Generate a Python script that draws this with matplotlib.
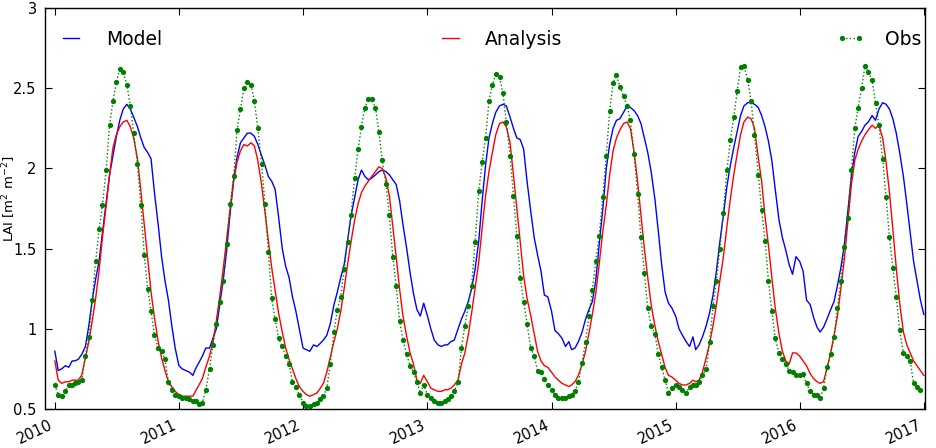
import matplotlib
matplotlib.use("Agg")
import matplotlib.pyplot as plt
import matplotlib.dates as mdates
import numpy as np

years = [2010, 2011, 2012, 2013, 2014, 2015, 2016]

# 10-day (dekad) series, one row per year
obs = [
    0.65, 0.59, 0.58, 0.61, 0.65, 0.65, 0.66, 0.67, 0.68, 0.83, 0.95, 1.18, 1.42, 1.62, 1.77, 1.99, 2.27, 2.42,
    2.54, 2.62, 2.60, 2.52, 2.39, 2.22, 2.03, 1.77, 1.46, 1.25, 1.11, 0.96, 0.88, 0.86, 0.81, 0.67, 0.62, 0.59,
    0.58, 0.57, 0.57, 0.56, 0.55, 0.55, 0.53, 0.54, 0.62, 0.75, 0.90, 1.03, 1.17, 1.30, 1.53, 1.78, 1.95, 2.24,
    2.37, 2.50, 2.54, 2.52, 2.42, 2.25, 2.03, 1.78, 1.48, 1.19, 1.06, 0.94, 0.89, 0.83, 0.78, 0.67, 0.64, 0.59,
    0.54, 0.52, 0.52, 0.53, 0.54, 0.56, 0.58, 0.63, 0.78, 0.98, 1.12, 1.20, 1.37, 1.54, 1.71, 1.94, 2.12, 2.26,
    2.38, 2.43, 2.43, 2.38, 2.23, 2.05, 1.90, 1.71, 1.45, 1.27, 1.05, 0.93, 0.84, 0.77, 0.73, 0.67, 0.60, 0.65,
    0.59, 0.57, 0.55, 0.54, 0.54, 0.55, 0.56, 0.58, 0.61, 0.67, 0.88, 1.02, 1.14, 1.27, 1.54, 1.86, 2.04, 2.19,
    2.42, 2.52, 2.59, 2.57, 2.47, 2.29, 2.08, 1.83, 1.58, 1.32, 1.17, 1.03, 0.88, 0.83, 0.74, 0.73, 0.69, 0.65,
    0.62, 0.59, 0.57, 0.57, 0.57, 0.58, 0.59, 0.61, 0.67, 0.79, 0.92, 1.08, 1.24, 1.42, 1.58, 1.82, 2.08, 2.36,
    2.53, 2.58, 2.51, 2.45, 2.39, 2.30, 2.09, 1.84, 1.57, 1.35, 1.13, 1.02, 0.97, 0.84, 0.76, 0.68, 0.60, 0.63,
    0.65, 0.64, 0.62, 0.60, 0.64, 0.65, 0.65, 0.67, 0.71, 0.75, 0.92, 1.14, 1.30, 1.50, 1.72, 1.99, 2.18, 2.32,
    2.48, 2.63, 2.64, 2.55, 2.42, 2.21, 1.96, 1.74, 1.55, 1.30, 1.11, 0.94, 0.85, 0.81, 0.78, 0.74, 0.73, 0.71,
    0.71, 0.72, 0.66, 0.61, 0.59, 0.59, 0.57, 0.63, 0.76, 0.84, 0.95, 1.13, 1.30, 1.51, 1.69, 1.99, 2.25, 2.38,
    2.50, 2.64, 2.60, 2.55, 2.41, 2.27, 2.06, 1.82, 1.57, 1.38, 1.20, 0.99, 0.85, 0.83, 0.80, 0.66, 0.64, 0.62,
]

model = [
    0.86, 0.74, 0.75, 0.77, 0.76, 0.80, 0.80, 0.81, 0.84, 0.89, 1.02, 1.18, 1.31, 1.42, 1.60, 1.79, 1.96, 2.08,
    2.20, 2.30, 2.37, 2.40, 2.37, 2.32, 2.26, 2.19, 2.13, 2.10, 2.06, 1.85, 1.65, 1.45, 1.30, 1.18, 1.02, 0.88,
    0.77, 0.75, 0.74, 0.73, 0.71, 0.76, 0.79, 0.83, 0.88, 0.88, 0.94, 1.00, 1.15, 1.30, 1.48, 1.73, 1.93, 2.07,
    2.16, 2.19, 2.22, 2.22, 2.20, 2.15, 2.08, 2.02, 1.95, 1.92, 1.87, 1.70, 1.50, 1.39, 1.32, 1.20, 1.11, 1.00,
    0.88, 0.87, 0.86, 0.90, 0.89, 0.91, 0.93, 0.96, 1.03, 1.15, 1.23, 1.32, 1.40, 1.55, 1.70, 1.82, 1.93, 1.99,
    1.95, 1.93, 1.94, 1.96, 1.98, 1.99, 1.98, 1.96, 1.93, 1.90, 1.80, 1.65, 1.50, 1.35, 1.22, 1.12, 1.08, 1.16,
    1.08, 1.00, 0.93, 0.90, 0.89, 0.90, 0.90, 0.92, 0.93, 1.00, 1.06, 1.11, 1.17, 1.25, 1.37, 1.55, 1.80, 2.02,
    2.19, 2.28, 2.35, 2.39, 2.40, 2.39, 2.32, 2.25, 2.19, 2.18, 2.12, 1.92, 1.73, 1.57, 1.46, 1.36, 1.21, 1.20,
    1.11, 0.99, 0.97, 0.94, 0.89, 0.92, 0.87, 0.88, 0.92, 0.98, 1.06, 1.12, 1.17, 1.30, 1.52, 1.75, 2.00, 2.15,
    2.25, 2.30, 2.31, 2.35, 2.39, 2.38, 2.36, 2.33, 2.28, 2.19, 2.10, 1.98, 1.81, 1.61, 1.40, 1.23, 1.16, 1.13,
    1.08, 1.00, 0.96, 0.92, 0.89, 0.95, 0.87, 0.90, 0.95, 1.02, 1.10, 1.21, 1.36, 1.54, 1.70, 1.89, 2.02, 2.13,
    2.23, 2.33, 2.39, 2.41, 2.41, 2.40, 2.38, 2.33, 2.26, 2.17, 2.05, 1.87, 1.68, 1.57, 1.49, 1.40, 1.34, 1.45,
    1.42, 1.36, 1.18, 1.15, 1.07, 1.01, 0.98, 1.01, 1.06, 1.12, 1.17, 1.27, 1.38, 1.52, 1.72, 1.95, 2.10, 2.20,
    2.23, 2.27, 2.29, 2.33, 2.30, 2.37, 2.41, 2.40, 2.37, 2.31, 2.22, 2.10, 1.95, 1.78, 1.60, 1.42, 1.30, 1.18,
    1.09,
]

analysis = [
    0.80, 0.68, 0.66, 0.67, 0.67, 0.68, 0.68, 0.68, 0.71, 0.82, 0.92, 1.05, 1.19, 1.36, 1.57, 1.77, 1.96, 2.13,
    2.21, 2.26, 2.29, 2.30, 2.26, 2.19, 2.06, 1.86, 1.65, 1.44, 1.23, 1.07, 0.92, 0.82, 0.74, 0.67, 0.64, 0.61,
    0.59, 0.58, 0.58, 0.58, 0.58, 0.62, 0.65, 0.69, 0.76, 0.83, 0.92, 1.05, 1.20, 1.37, 1.55, 1.75, 1.92, 2.04,
    2.11, 2.15, 2.14, 2.16, 2.14, 2.05, 1.90, 1.73, 1.55, 1.38, 1.24, 1.10, 0.98, 0.88, 0.81, 0.75, 0.69, 0.64,
    0.61, 0.59, 0.58, 0.59, 0.60, 0.63, 0.66, 0.73, 0.82, 0.92, 1.00, 1.11, 1.25, 1.40, 1.54, 1.68, 1.78, 1.85,
    1.89, 1.92, 1.95, 1.98, 2.01, 2.00, 1.94, 1.83, 1.64, 1.45, 1.25, 1.08, 0.95, 0.85, 0.78, 0.68, 0.66, 0.71,
    0.67, 0.63, 0.62, 0.61, 0.61, 0.62, 0.62, 0.63, 0.65, 0.68, 0.78, 0.85, 0.96, 1.10, 1.25, 1.42, 1.63, 1.83,
    1.98, 2.10, 2.21, 2.28, 2.29, 2.26, 2.16, 1.96, 1.75, 1.54, 1.33, 1.19, 1.08, 0.97, 0.86, 0.80, 0.77, 0.76,
    0.73, 0.70, 0.68, 0.66, 0.65, 0.64, 0.65, 0.67, 0.71, 0.78, 0.86, 0.97, 1.09, 1.22, 1.40, 1.61, 1.77, 1.96,
    2.11, 2.19, 2.24, 2.28, 2.29, 2.25, 2.10, 1.92, 1.71, 1.50, 1.32, 1.15, 1.02, 0.92, 0.84, 0.76, 0.71, 0.70,
    0.68, 0.66, 0.65, 0.65, 0.66, 0.68, 0.67, 0.68, 0.73, 0.82, 0.91, 1.02, 1.15, 1.30, 1.44, 1.64, 1.81, 1.96,
    2.09, 2.21, 2.29, 2.32, 2.31, 2.25, 2.07, 1.92, 1.70, 1.52, 1.32, 1.13, 0.97, 0.86, 0.80, 0.78, 0.85, 0.85,
    0.83, 0.80, 0.77, 0.72, 0.69, 0.67, 0.66, 0.67, 0.75, 0.85, 0.96, 1.08, 1.25, 1.43, 1.65, 1.90, 2.05, 2.12,
    2.17, 2.21, 2.24, 2.27, 2.25, 2.27, 2.19, 2.04, 1.85, 1.62, 1.38, 1.16, 0.98, 0.90, 0.85, 0.80, 0.77, 0.74,
    0.71,
]

# dekad dates (1st, 11th, 21st of each month), lines get one extra point on the last day
dates = np.array([np.datetime64(f"{y}-{m:02d}-{d:02d}") for y in years
                  for m in range(1, 13) for d in (1, 11, 21)])
line_dates = np.append(dates, np.datetime64("2016-12-31"))

fig = plt.figure(figsize=(9.37, 4.48), dpi=100)
ax = fig.add_axes([0.048, 0.087, 0.939, 0.895])

ax.plot(line_dates, model, color="b", lw=1.0, label="Model")
ax.plot(line_dates, analysis, color="r", lw=1.0, label="Analysis")
ax.plot(dates, obs, color="g", ls=":", lw=1.0, marker="o", ms=3.8, mew=0, label="Obs")

ax.set_xlim(np.datetime64("2009-12-03"), np.datetime64("2017-01-03"))
ax.set_ylim(0.5, 3)
ax.set_yticks([0.5, 1, 1.5, 2, 2.5, 3])
ax.set_yticklabels(["0.5", "1", "1.5", "2", "2.5", "3"])
ax.xaxis.set_major_locator(mdates.YearLocator())
ax.xaxis.set_major_formatter(mdates.DateFormatter("%Y"))
for lab in ax.get_xticklabels():
    lab.set_rotation(25)
    lab.set_ha("right")

ax.tick_params(direction="in", top=True, right=True, length=5, width=0.8,
               labelsize=10.5, pad=6)
for s in ax.spines.values():
    s.set_linewidth(1.0)

# y label sits hard against the left edge, as in the original
fig.text(0.0, 0.556, "LAI [m$^2$ m$^{-2}$]", rotation=90, va="center", ha="left", fontsize=9.5)

ax.legend(loc="upper left", bbox_to_anchor=(0.005, 0.0, 1.0, 0.965), mode="expand", ncol=3,
          frameon=False, fontsize=13.5, handlelength=1.5, handletextpad=1.1, numpoints=2,
          borderaxespad=0)

fig.savefig("out.png", dpi=100)
